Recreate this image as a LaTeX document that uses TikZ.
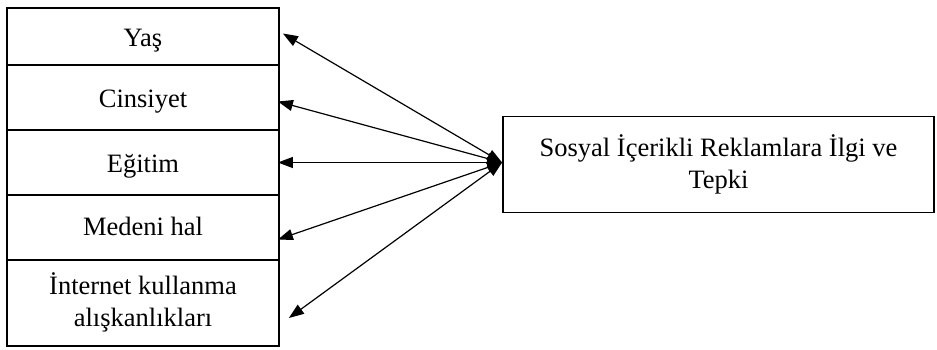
\documentclass[tikz,border=0pt]{standalone}
\usepackage{fontspec}
\setmainfont{Liberation Serif}
\usetikzlibrary{arrows.meta,calc}
\newcommand{\lowtxt}[2]{\raisebox{-#1}[\height][\depth]{\begin{tabular}{@{}c@{}}#2\end{tabular}}}
\begin{document}
\begin{tikzpicture}[x=1pt,y=-1pt,
  every node/.style={font=\fontsize{26.5}{31.5}\selectfont},
  lbox/.style={draw,line width=1.8pt,minimum width=272pt,inner sep=0pt},
  rbox/.style={draw,line width=1.8pt,minimum width=431pt,minimum height=96pt,inner sep=0pt,align=center},
  link/.style={line width=1.2pt,{Triangle[length=15pt,width=11pt]}-{Triangle[length=15pt,width=11pt]}}]
\useasboundingbox (0,0) rectangle (937,349);
\node[lbox,minimum height=57pt] (yas) at (143,36.5) {\lowtxt{4pt}{Yaş}};
\node[lbox,minimum height=65pt] (cins) at (143,97.5) {\lowtxt{4pt}{Cinsiyet}};
\node[lbox,minimum height=65pt] (egit) at (143,162.5) {\lowtxt{4pt}{Eğitim}};
\node[lbox,minimum height=65pt] (med) at (143,227.5) {\lowtxt{2pt}{Medeni hal}};
\node[lbox,minimum height=86pt] (int) at (143,303) {\lowtxt{1pt}{İnternet kullanma\\alışkanlıkları}};
\node[rbox] (soc) at (718.5,164.5) {Sosyal İçerikli Reklamlara İlgi ve\\Tepki};
\coordinate (hub) at ($(soc.west)+(0,-2)$);
\coordinate (tY) at ($(yas.east)+(3,-3)$);
\coordinate (tC) at ($(cins.east)+(-2,4)$);
\coordinate (tE) at ($(egit.east)+(-2,0)$);
\coordinate (tM) at ($(med.east)+(-2,12)$);
\coordinate (tI) at ($(int.east)+(9,15)$);
\draw[link] (tY) -- (hub);
\draw[link] (tC) -- (hub);
\draw[link] (tE) -- (hub);
\draw[link] (tM) -- (hub);
\draw[link] (tI) -- (hub);
\end{tikzpicture}
\end{document}
